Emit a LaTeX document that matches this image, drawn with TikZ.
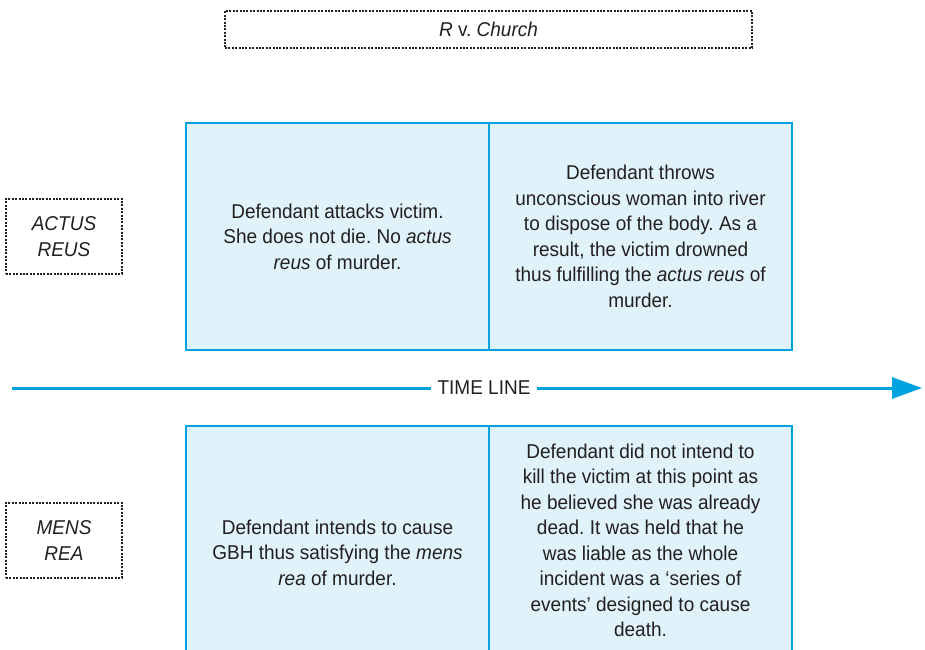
\documentclass[tikz,border=0pt]{standalone}
\usepackage{fontspec}
\setmainfont[FakeStretch=0.95]{Liberation Sans}
\usetikzlibrary{arrows.meta}
\frenchspacing
\definecolor{ink}{RGB}{35,31,32}
\definecolor{rule}{RGB}{0,163,224}
\definecolor{cellfill}{RGB}{224,242,250}
\tikzset{
  dotbox/.style={draw=ink, line width=2.4pt, dash pattern=on 2pt off 1.4pt,
    inner sep=0pt, align=center},
  cell/.style={draw=rule, line width=1.2pt, fill=cellfill, inner sep=0pt,
    minimum width=303pt, minimum height=227pt},
  celltext/.style={align=center, inner sep=0pt, text=ink},
  timeline/.style={draw=rule, line width=3pt},
}
\begin{document}
\begin{tikzpicture}[x=1pt,y=-1pt,font=\fontsize{20}{25.5}\selectfont,text=ink]
\useasboundingbox (0,0) rectangle (925,649);

% case title
\node[dotbox, minimum width=527pt, minimum height=37pt] (title) at (488.5,29.5)
  {\textit{R} v. \textit{Church}};

% row labels
\node[dotbox, minimum width=116pt, minimum height=75pt] (actus) at (64,236.5)
  {\itshape ACTUS\\\itshape REUS};
\node[dotbox, minimum width=116pt, minimum height=75pt] (mens) at (64,540.5)
  {\itshape MENS\\\itshape REA};

% actus reus row
\node[cell, celltext] (ar1) at (337.5,236.5)
  {Defendant attacks victim.\\She does not die. No \textit{actus}\\\textit{reus} of murder.};
\node[cell, celltext] (ar2) at (640.5,236.5)
  {Defendant throws\\unconscious woman into river\\to dispose of the body. As a\\result, the victim drowned\\thus fulfilling the \textit{actus reus} of\\murder.};

% time line
\coordinate (t0) at (12,388);
\coordinate (t1) at (922,388);
\node[fill=white, inner xsep=6pt, inner ysep=2pt] (tl) at (484,388) {TIME LINE};
\draw[timeline] (t0) -- (tl.west);
\draw[timeline, -{Triangle[length=30pt,width=21pt]}] (tl.east) -- (t1);

% mens rea row (runs off the lower edge)
\begin{scope}
\clip (0,0) rectangle (925,649);
\node[cell, minimum height=254pt] (mr1) at (337.5,553) {};
\node[cell, minimum height=254pt] (mr2) at (640.5,553) {};
\end{scope}
\node[celltext] (mr1t) at (337.5,552.5)
  {Defendant intends to cause\\GBH thus satisfying the \textit{mens}\\\textit{rea} of murder.};
\node[celltext] (mr2t) at (640.5,540.5)
  {Defendant did not intend to\\kill the victim at this point as\\he believed she was already\\dead. It was held that he\\was liable as the whole\\incident was a ‘series of\\events’ designed to cause\\death.};
\end{tikzpicture}
\end{document}
